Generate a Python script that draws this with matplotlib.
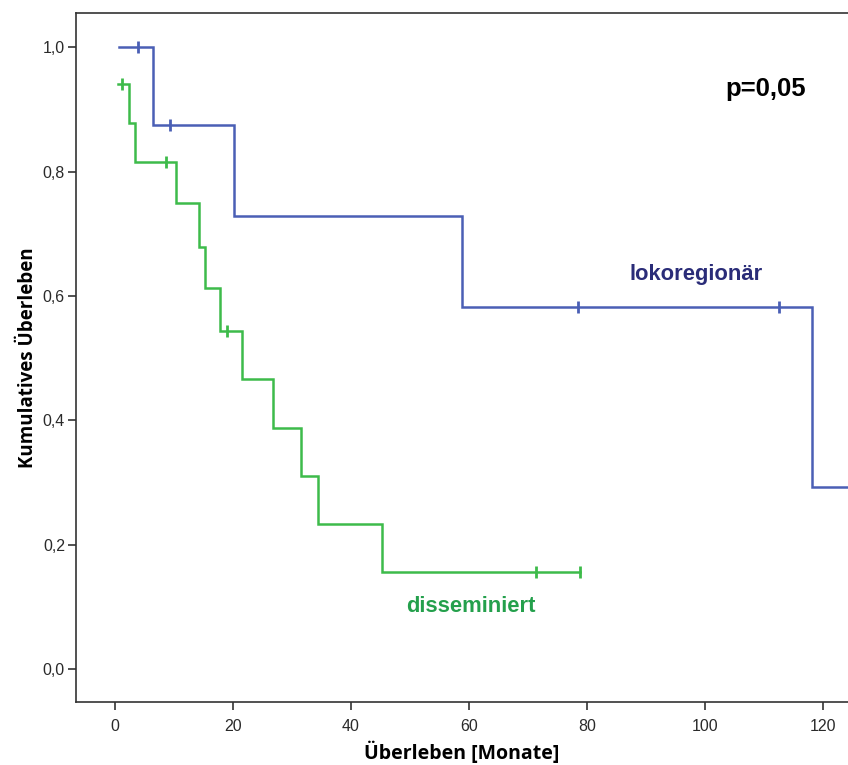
import numpy as np
import matplotlib
matplotlib.use("Agg")
import matplotlib.pyplot as plt
from matplotlib import font_manager
from matplotlib.ticker import FuncFormatter

# ---- data ----
loko_times = [0.7, 6.4, 20.2, 58.8, 118.1]
loko_surv = [1.0, 0.875, 0.729, 0.583, 0.292]
loko_end = 130.0
loko_censor = [3.9, 9.4, 78.5, 112.5]

diss_times = [0.5, 2.3, 3.4, 10.4, 14.3, 15.3, 17.8, 21.6, 26.8, 31.6, 34.4, 45.2]
diss_surv = [0.941, 0.878, 0.815, 0.749, 0.679, 0.612, 0.544, 0.466, 0.388, 0.311, 0.234, 0.156]
diss_end = 78.8
diss_censor = [1.2, 8.6, 19.0, 71.4, 78.8]

xticks = [0, 20, 40, 60, 80, 100, 120]
yticks = [0.0, 0.2, 0.4, 0.6, 0.8, 1.0]

names = {f.name for f in font_manager.fontManager.ttflist}
tick_font = "Liberation Sans Narrow" if "Liberation Sans Narrow" in names else "Liberation Sans"

blue = "#4a5fb5"
green = "#3dbb4a"

fig = plt.figure(figsize=(8.48, 7.65), dpi=100)
ax = fig.add_axes([76 / 848, 1 - 702 / 765, 1 - 76 / 848, (702 - 13) / 765])


def step_at(times, surv, t):
    idx = np.searchsorted(times, t, side="right") - 1
    return np.array(surv)[idx]


def draw(times, surv, end, cens, color):
    xs = list(times) + [end]
    ys = list(surv) + [surv[-1]]
    ax.step(xs, ys, where="post", color=color, lw=1.8, solid_joinstyle="miter", zorder=3)
    cy = step_at(np.array(times), surv, np.array(cens))
    ax.plot(cens, cy, linestyle="none", marker="|", markersize=8, mew=2.0, color=color, zorder=4)


draw(loko_times, loko_surv, loko_end, loko_censor, blue)
draw(diss_times, diss_surv, diss_end, diss_censor, green)

ax.set_xlim(-6.6, 124.2)
ax.set_ylim(-0.053, 1.055)
ax.set_xticks(xticks)
ax.set_yticks(yticks)
ax.yaxis.set_major_formatter(FuncFormatter(lambda v, p: f"{v:.1f}".replace(".", ",")))
ax.tick_params(direction="out", length=6, width=1.2, color="#333333", labelcolor="#2a2a2a",
               labelsize=11.5, pad=2)
for lab in ax.get_xticklabels() + ax.get_yticklabels():
    lab.set_fontfamily(tick_font)
ax.tick_params(axis="x", pad=6)
for s in ["left", "bottom", "top"]:
    ax.spines[s].set_linewidth(1.2)
    ax.spines[s].set_color("#333333")
ax.spines["right"].set_visible(False)

ax.set_xlabel("Überleben [Monate]", fontfamily="Open Sans", fontweight="bold", fontsize=14, labelpad=6)
ax.set_ylabel("Kumulatives Überleben", fontfamily="Open Sans", fontweight="bold", fontsize=13.5, labelpad=3)

ax.text(110.3, 0.932, "p=0,05", fontfamily="Liberation Sans", fontweight="bold", fontsize=18.5,
        ha="center", va="center", color="black")
ax.text(98.5, 0.634, "lokoregionär", fontfamily="Liberation Sans", fontweight="bold", fontsize=15.8,
        ha="center", va="center", color="#2a2c78")
ax.text(60.3, 0.101, "disseminiert", fontfamily="Liberation Sans", fontweight="bold", fontsize=15.8,
        ha="center", va="center", color="#24a04c")

fig.savefig("out.png", dpi=100)
